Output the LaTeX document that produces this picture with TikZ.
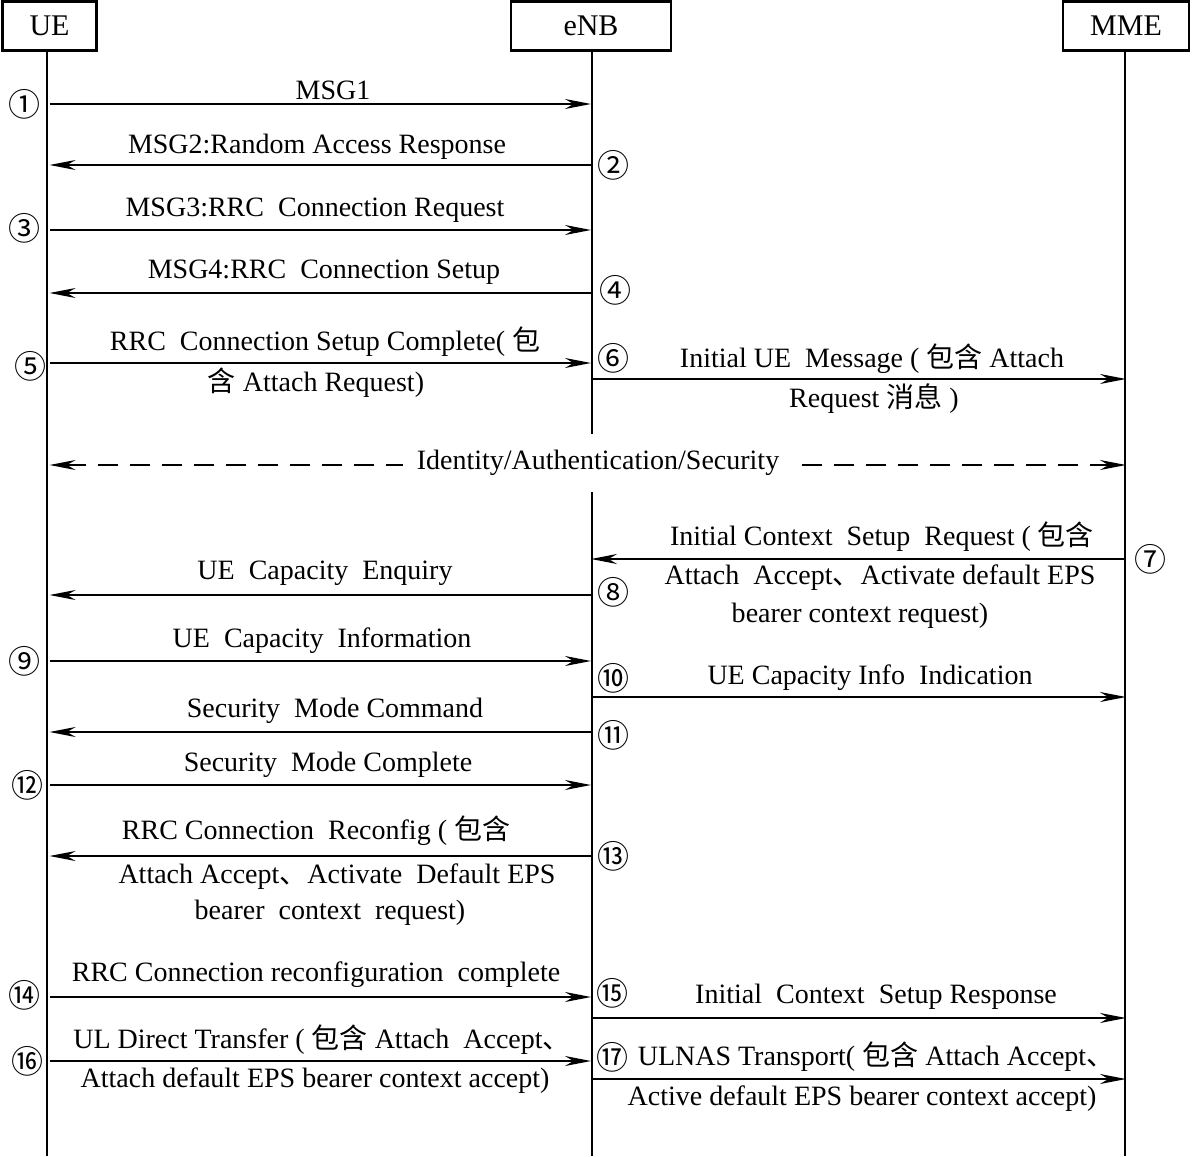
\documentclass[tikz,border=0pt]{standalone}
\usepackage{fontspec}
\setmainfont{Liberation Serif}
\newfontfamily\cjk{Noto Sans CJK SC}
\usetikzlibrary{arrows.meta}
\newcommand{\zh}[1]{{\cjk #1}}
\tikzset{
  ent/.style={draw,line width=1.4pt,minimum height=24.5pt,inner sep=0pt,font=\fontsize{15}{17}\selectfont},
  life/.style={line width=0.7pt},
  msg/.style={line width=0.9pt,-{Stealth[length=13pt,width=5pt]}},
  lbl/.style={inner sep=0pt},
  num/.style={inner sep=0pt,font=\fontsize{16}{18}\selectfont\cjk}
}

\begin{document}
\begin{tikzpicture}[x=0.5pt,y=-0.5pt,font=\fontsize{14}{16}\selectfont]
\useasboundingbox (0,0) rectangle (1192,1156);
% entities and lifelines
\node[ent,minimum width=47pt] (ue) at (49.5,26) {UE};
\node[ent,minimum width=80pt] (enb) at (591,26) {eNB};
\node[ent,minimum width=63pt] (mme) at (1126,26) {MME};
\coordinate (ueend) at (47,1156);
\coordinate (enbend) at (592,1156);
\coordinate (mmeend) at (1125,1156);
\draw[life] (ue.south -| ueend) -- (ueend);
\draw[life] (enb.south -| enbend) -- (enbend);
\draw[life] (mme.south -| mmeend) -- (mmeend);

% random access
\draw[msg] (ue |- 0,104) -- (enb |- 0,104);
\node[lbl] (l1) at (333,90) {MSG1};
\node[num] (n1) at (25,104) {①};
\draw[msg] (enb |- 0,165) -- (ue |- 0,165);
\node[lbl] (l2) at (317,147) {MSG2:Random Access Response};
\node[num] (n2) at (613,165) {②};
\draw[msg] (ue |- 0,230) -- (enb |- 0,230);
\node[lbl] (l3) at (315,210) {MSG3:RRC \ Connection Request};
\node[num] (n3) at (25,228) {③};
\draw[msg] (enb |- 0,293) -- (ue |- 0,293);
\node[lbl] (l4) at (324,272) {MSG4:RRC \ Connection Setup};
\node[num] (n4) at (615,290) {④};

% attach request
\draw[msg] (ue |- 0,363) -- (enb |- 0,363);
\node[lbl] (l5a) at (325,342) {RRC \ Connection Setup Complete( \zh{包}};
\node[lbl] (l5b) at (316,383) {\zh{含} Attach Request)};
\node[num] (n5) at (30,366) {⑤};
\draw[msg] (enb |- 0,379) -- (mme |- 0,379);
\node[lbl] (l6a) at (872,359) {Initial UE \ Message ( \zh{包含} Attach};
\node[lbl] (l6b) at (874,399) {Request \zh{消息} )};
\node[num] (n6) at (613,358) {⑥};

% security
\draw[line width=0.9pt,dash pattern=on 10pt off 6pt,{Stealth[length=13pt,width=5pt]}-{Stealth[length=13pt,width=5pt]}] (ue |- 0,465) -- (mme |- 0,465);
\node[lbl,fill=white,inner xsep=7pt,inner ysep=8pt] (lsec) at (598,463) {Identity/Authentication/Security};

% context setup
\draw[msg] (mme |- 0,559) -- (enb |- 0,559);
\node[lbl] (l7a) at (882,537) {Initial Context \ Setup \ Request ( \zh{包含}};
\node[lbl] (l7b) at (880,578) {Attach \ Accept\zh{、}Activate default EPS};
\node[lbl] (l7c) at (860,616) {bearer context request)};
\node[num] (n7) at (1150,559) {⑦};
\draw[msg] (enb |- 0,595) -- (ue |- 0,595);
\node[lbl] (l8) at (325,573) {UE \ Capacity \ Enquiry};
\node[num] (n8) at (613,592) {⑧};
\draw[msg] (ue |- 0,661) -- (enb |- 0,661);
\node[lbl] (l9) at (322,641) {UE \ Capacity \ Information};
\node[num] (n9) at (25,661) {⑨};
\draw[msg] (enb |- 0,697) -- (mme |- 0,697);
\node[lbl] (l10) at (870,678) {UE Capacity Info \ Indication};
\node[num] (n10) at (613,678) {⑩};
\draw[msg] (enb |- 0,732) -- (ue |- 0,732);
\node[lbl] (l11) at (335,711) {Security \ Mode Command};
\node[num] (n11) at (613,735) {⑪};
\draw[msg] (ue |- 0,785) -- (enb |- 0,785);
\node[lbl] (l12) at (328,765) {Security \ Mode Complete};
\node[num] (n12) at (27,785) {⑫};

% reconfiguration
\draw[msg] (enb |- 0,856) -- (ue |- 0,856);
\node[lbl] (l13a) at (316,831) {RRC Connection \ Reconfig ( \zh{包含}};
\node[lbl] (l13b) at (337,877) {Attach Accept\zh{、}Activate \ Default EPS};
\node[lbl] (l13c) at (330,913) {bearer \ context \ request)};
\node[num] (n13) at (613,856) {⑬};
\draw[msg] (ue |- 0,997) -- (enb |- 0,997);
\node[lbl] (l14) at (316,975) {RRC Connection reconfiguration \ complete};
\node[num] (n14) at (25,995) {⑭};
\draw[msg] (enb |- 0,1018) -- (mme |- 0,1018);
\node[lbl] (l15) at (876,997) {Initial \ Context \ Setup Response};
\node[num] (n15) at (612,993) {⑮};
\draw[msg] (ue |- 0,1061) -- (enb |- 0,1061);
\node[lbl] (l16a) at (322,1040) {UL Direct Transfer ( \zh{包含} Attach \ Accept\zh{、}};
\node[lbl] (l16b) at (315,1081) {Attach default EPS bearer context accept)};
\node[num] (n16) at (27,1061) {⑯};
\draw[msg] (enb |- 0,1079) -- (mme |- 0,1079);
\node[lbl] (l17a) at (876,1057) {ULNAS Transport( \zh{包含} Attach Accept\zh{、}};
\node[lbl] (l17b) at (862,1099) {Active default EPS bearer context accept)};
\node[num] (n17) at (612,1057) {⑰};
\end{tikzpicture}
\end{document}
